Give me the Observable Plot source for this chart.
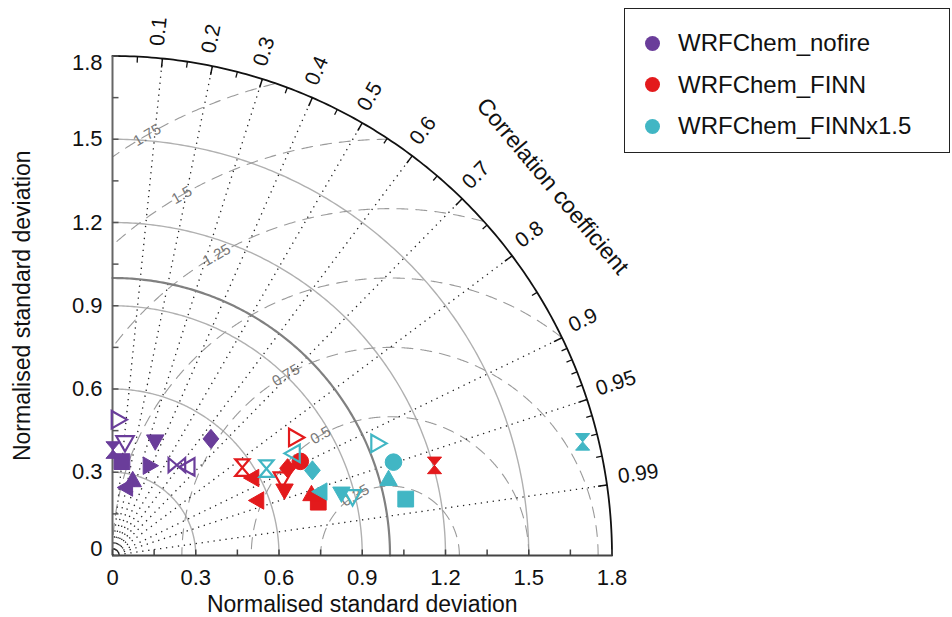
<!DOCTYPE html>
<html><head><meta charset="utf-8">
<script src="https://cdn.jsdelivr.net/npm/d3@7"></script>
<script src="https://cdn.jsdelivr.net/npm/@observablehq/plot@0.6"></script>
<style>
body{margin:0;background:#fff;font-family:"Liberation Sans",Arial,sans-serif}
#wrap{position:relative;width:952px;height:617px}
.legend{position:absolute;left:624px;top:8px;width:326px;height:145px;border:1.6px solid #222;box-sizing:border-box;background:#fff}
.legend .row{position:absolute;left:0;height:30px;display:flex;align-items:center;font-size:24px;color:#111}
.legend .dot{display:inline-block;width:15px;height:15px;border-radius:50%;margin-left:20px;margin-right:18px}
</style></head>
<body><div id="wrap"></div>
<script>
// ---------- data ----------
const seriesNames = ["WRFChem_nofire", "WRFChem_FINN", "WRFChem_FINNx1.5"];
const seriesColors = ["#6a3d9a", "#e31a1c", "#41b6c4"];

const nofireShape  = ["triR","triD","triD","diamond","hourV","square","triR","hourH","triL","triL","triU"];
const nofireFilled = [0,0,1,1,1,1,1,0,0,1,1];
const nofireStd    = [0.49,0.41,0.44,0.55,0.38,0.34,0.35,0.40,0.42,0.25,0.28];
const nofireCorr   = [0.04,0.11,0.35,0.645,0.005,0.10,0.38,0.58,0.65,0.20,0.26];

const finnShape  = ["hourV","triR","circle","diamond","triL","triD","triD","triL","triU","square","hourV"];
const finnFilled = [0,0,1,1,1,0,1,1,1,1,1];
const finnStd    = [0.565,0.784,0.757,0.705,0.577,0.672,0.663,0.559,0.75,0.766,1.205];
const finnCorr   = [0.828,0.84,0.894,0.895,0.875,0.911,0.935,0.935,0.956,0.968,0.963];

const finn15Shape  = ["hourV","triL","diamond","triL","triD","triD","triR","circle","triU","square","hourV"];
const finn15Filled = [0,0,1,1,1,0,0,1,1,1,1];
const finn15Std    = [0.637,0.749,0.783,0.785,0.855,0.891,1.037,1.067,1.032,1.076,1.743];
const finn15Corr   = [0.871,0.871,0.92,0.956,0.965,0.971,0.921,0.949,0.964,0.982,0.972];

const axisTicks = [0, 0.3, 0.6, 0.9, 1.2, 1.5, 1.8];
const axisMinor = [0.15, 0.45, 0.75, 1.05, 1.35, 1.65];
const stdArcs = [0.3, 0.6, 0.9, 1.2, 1.5];
const refStd = 1.0;
const maxStd = 1.8;
const corrMajor = [0.1,0.2,0.3,0.4,0.5,0.6,0.7,0.8,0.9,0.95,0.99];
const corrMinor = [0.05,0.15,0.25,0.35,0.45,0.55,0.65,0.75,0.85,0.91,0.92,0.93,0.94,0.96,0.97,0.98];
const rmsRadii = [0.25,0.5,0.75,1,1.25,1.5,1.75];
const rmsLabelValues = [0.25,0.5,0.75,1.25,1.5,1.75];
const rmsLabelText = ["0.25","0.5","0.75","1.25","1.5","1.75"];

// ---------- build ----------
const rows = [];
[[nofireShape,nofireFilled,nofireStd,nofireCorr],[finnShape,finnFilled,finnStd,finnCorr],[finn15Shape,finn15Filled,finn15Std,finn15Corr]]
  .forEach(([sh,fi,sd,cc],k)=>sh.forEach((s,i)=>rows.push({series:k,shape:s,filled:!!fi[i],std:sd[i],corr:cc[i]})));
const px = d => d.std * d.corr;
const py = d => d.std * Math.sqrt(1 - d.corr*d.corr);

function poly(pts){return {draw(ctx,size){const h=Math.sqrt(size/Math.PI);ctx.moveTo(pts[0][0]*h,pts[0][1]*h);for(let i=1;i<pts.length;i++)ctx.lineTo(pts[i][0]*h,pts[i][1]*h);ctx.closePath();}};}
const symbols = {
  circle:{draw(ctx,size){const r=Math.sqrt(size/Math.PI);ctx.moveTo(r,0);ctx.arc(0,0,r,0,2*Math.PI);}},
  square:poly([[-0.95,-0.95],[0.95,-0.95],[0.95,0.95],[-0.95,0.95]]),
  diamond:poly([[0,-1.15],[0.95,0],[0,1.15],[-0.95,0]]),
  triU:poly([[0,-1.1],[1.05,0.75],[-1.05,0.75]]),
  triD:poly([[0,1.1],[1.05,-0.75],[-1.05,-0.75]]),
  triR:poly([[1.1,0],[-0.75,1.05],[-0.75,-1.05]]),
  triL:poly([[-1.1,0],[0.75,1.05],[0.75,-1.05]]),
  hourV:poly([[-0.85,-1],[0.85,-1],[-0.85,1],[0.85,1]]),
  hourH:poly([[-1,-0.85],[-1,0.85],[1,-0.85],[1,0.85]])
};

const unit = 1.8/499.5; // data units per pixel
function arc(r, z){const a=[];for(let t=0;t<=90;t+=0.5){const th=t*Math.PI/180;a.push({x:r*Math.cos(th),y:r*Math.sin(th),z});}return a;}
const stdArcPts = stdArcs.flatMap(r=>arc(r,r));
const refArcPts = arc(refStd,"ref");
const outerArcPts = arc(maxStd,"outer");
const rmsPts = rmsRadii.flatMap(c=>{const a=[];for(let t=0;t<=180;t+=0.25){const th=t*Math.PI/180;const x=1+c*Math.cos(th),y=c*Math.sin(th);const ok=x>=0&&y>=0&&Math.hypot(x,y)<=maxStd;a.push({x:ok?x:NaN,y:ok?y:NaN,z:c});}return a;});

const marks = [
  Plot.line(stdArcPts,{x:"x",y:"y",z:"z",stroke:"#b0b0b0",strokeWidth:1.4}),
  Plot.line(rmsPts,{x:"x",y:"y",z:"z",stroke:"#9a9a9a",strokeWidth:1.1,strokeDasharray:"11,8"}),
  Plot.link(corrMajor,{x1:0,y1:0,x2:c=>maxStd*c,y2:c=>maxStd*Math.sqrt(1-c*c),stroke:"#222",strokeWidth:1.3,strokeDasharray:"1.3,4.7"}),
  Plot.line(refArcPts,{x:"x",y:"y",stroke:"#808080",strokeWidth:2.2}),
  Plot.text(rmsLabelValues,{x:c=>1+c*Math.cos(2*Math.PI/3),y:c=>c*Math.sin(2*Math.PI/3),text:(c,i)=>rmsLabelText[i],rotate:-30,fill:"#777",fontSize:15}),
  Plot.line(outerArcPts,{x:"x",y:"y",stroke:"#111",strokeWidth:1.8}),
  Plot.ruleX([0],{y1:0,y2:maxStd,stroke:"#666",strokeWidth:2}),
  Plot.ruleY([0],{x1:0,x2:maxStd,stroke:"#444",strokeWidth:2}),
  // axis ticks inward
  Plot.link(axisMinor.concat(axisTicks),{x1:0,x2:6*unit,y1:d=>d,y2:d=>d,stroke:"#555",strokeWidth:1.5}),
  Plot.link(axisMinor.concat(axisTicks),{y1:0,y2:6*unit,x1:d=>d,x2:d=>d,stroke:"#444",strokeWidth:1.5}),
  // correlation ticks
  Plot.link(corrMajor,{x1:c=>maxStd*c,y1:c=>maxStd*Math.sqrt(1-c*c),x2:c=>(maxStd-9*unit)*c,y2:c=>(maxStd-9*unit)*Math.sqrt(1-c*c),stroke:"#111",strokeWidth:1.5}),
  Plot.link(corrMinor,{x1:c=>maxStd*c,y1:c=>maxStd*Math.sqrt(1-c*c),x2:c=>(maxStd-6*unit)*c,y2:c=>(maxStd-6*unit)*Math.sqrt(1-c*c),stroke:"#111",strokeWidth:1.3}),
  // correlation labels
  Plot.text(corrMajor,{x:c=>(maxStd+12*unit)*c,y:c=>(maxStd+12*unit)*Math.sqrt(1-c*c),text:c=>String(c),rotate:c=>-Math.acos(c)*180/Math.PI,textAnchor:"start",lineAnchor:"bottom",dy:0,fontSize:21,fill:"#111"}),
  Plot.text(["Correlation coefficient"],{x:2.07*Math.cos(40*Math.PI/180),y:2.07*Math.sin(40*Math.PI/180),text:d=>d,rotate:50,fontSize:23,fill:"#111",textAnchor:"middle",lineAnchor:"middle"}),
  // axis tick labels
  Plot.text(axisTicks,{x:d=>d,y:0,dy:22,text:d=>String(d),fontSize:22,fill:"#111",lineAnchor:"middle"}),
  Plot.text(axisTicks.filter(d=>d>0&&d<maxStd),{x:0,y:d=>d,dx:-10,text:d=>String(d),textAnchor:"end",lineAnchor:"middle",fontSize:22,fill:"#111"}),
  Plot.text([0],{x:0,y:d=>d,dx:-10,dy:-7,text:d=>String(d),textAnchor:"end",lineAnchor:"middle",fontSize:22,fill:"#111"}),
  Plot.text([maxStd],{x:0,y:d=>d,dx:-10,dy:7,text:d=>String(d),textAnchor:"end",lineAnchor:"middle",fontSize:22,fill:"#111"}),
  Plot.text(["Normalised standard deviation"],{frameAnchor:"bottom",dy:49,text:d=>d,fontSize:23,fill:"#111",textAnchor:"middle",lineAnchor:"middle"}),
  Plot.text(["Normalised standard deviation"],{frameAnchor:"left",dx:-90,rotate:-90,text:d=>d,fontSize:23,fill:"#111",textAnchor:"middle",lineAnchor:"middle"})
];

// data markers, series order
for (let k=0;k<3;k++){
  for (const s of Object.keys(symbols)){
    for (const f of [true,false]){
      const sub = rows.filter(d=>d.series===k&&d.shape===s&&d.filled===f);
      if(!sub.length) continue;
      marks.push(Plot.dot(sub,{x:px,y:py,r:8.3,symbol:symbols[s],fill:f?seriesColors[k]:"none",stroke:seriesColors[k],strokeWidth:f?1:2.2}));
    }
  }
}

const chart = Plot.plot({
  width:952,height:617,
  marginLeft:112,marginRight:340.5,marginTop:55.5,marginBottom:62,
  x:{domain:[0,maxStd],axis:null},
  y:{domain:[0,maxStd],axis:null},
  style:{fontFamily:"'Liberation Sans', Arial, sans-serif",background:"#fff",overflow:"visible"},
  marks
});
const wrap = document.getElementById("wrap");
wrap.appendChild(chart);

// legend
const lg = document.createElement("div");
lg.className="legend";
seriesNames.forEach((n,i)=>{
  const r=document.createElement("div");r.className="row";r.style.top=(19+i*41.5)+"px";
  const d=document.createElement("span");d.className="dot";d.style.background=seriesColors[i];
  r.appendChild(d);r.appendChild(document.createTextNode(n));lg.appendChild(r);
});
wrap.appendChild(lg);
</script></body></html>
